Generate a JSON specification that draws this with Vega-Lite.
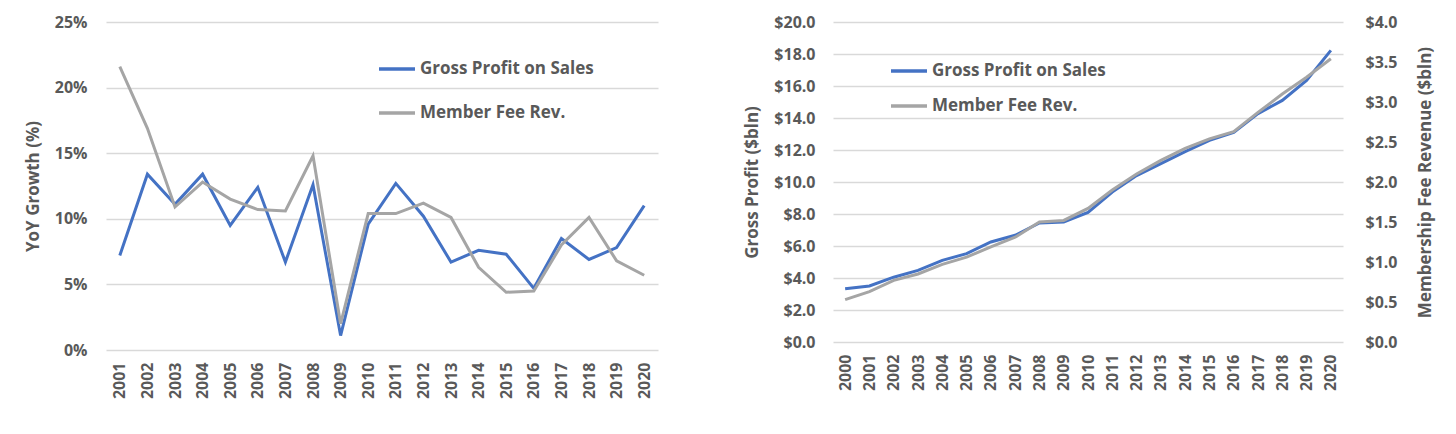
{
  "$schema": "https://vega.github.io/schema/vega-lite/v6.json",
  "background": "white",
  "padding": {"left": 24, "top": 14, "right": 5, "bottom": 5},
  "config": {
    "view": {"stroke": null},
    "font": "Open Sans",
    "axis": {
      "labelFont": "Open Sans",
      "labelFontSize": 16,
      "labelFontWeight": "bold",
      "labelColor": "#595959",
      "titleFont": "Open Sans",
      "titleFontSize": 17,
      "titleFontWeight": "bold",
      "titleColor": "#595959",
      "gridColor": "#D9D9D9",
      "gridWidth": 1.5,
      "domain": false,
      "ticks": false
    },
    "legend": {
      "labelFont": "Open Sans",
      "labelFontSize": 17,
      "labelFontWeight": "bold",
      "labelColor": "#595959",
      "labelLimit": 400,
      "symbolType": "stroke",
      "symbolSize": 1296,
      "symbolStrokeWidth": 3.5,
      "labelOffset": 3
    }
  },
  "datasets": {
    "growth": [
      {"year": "2001", "series": "Gross Profit on Sales", "value": 7.2},
      {"year": "2002", "series": "Gross Profit on Sales", "value": 13.4},
      {"year": "2003", "series": "Gross Profit on Sales", "value": 11.1},
      {"year": "2004", "series": "Gross Profit on Sales", "value": 13.4},
      {"year": "2005", "series": "Gross Profit on Sales", "value": 9.5},
      {"year": "2006", "series": "Gross Profit on Sales", "value": 12.4},
      {"year": "2007", "series": "Gross Profit on Sales", "value": 6.7},
      {"year": "2008", "series": "Gross Profit on Sales", "value": 12.6},
      {"year": "2009", "series": "Gross Profit on Sales", "value": 1.1},
      {"year": "2010", "series": "Gross Profit on Sales", "value": 9.6},
      {"year": "2011", "series": "Gross Profit on Sales", "value": 12.7},
      {"year": "2012", "series": "Gross Profit on Sales", "value": 10.2},
      {"year": "2013", "series": "Gross Profit on Sales", "value": 6.7},
      {"year": "2014", "series": "Gross Profit on Sales", "value": 7.6},
      {"year": "2015", "series": "Gross Profit on Sales", "value": 7.3},
      {"year": "2016", "series": "Gross Profit on Sales", "value": 4.7},
      {"year": "2017", "series": "Gross Profit on Sales", "value": 8.5},
      {"year": "2018", "series": "Gross Profit on Sales", "value": 6.9},
      {"year": "2019", "series": "Gross Profit on Sales", "value": 7.8},
      {"year": "2020", "series": "Gross Profit on Sales", "value": 11.0},
      {"year": "2001", "series": "Member Fee Rev.", "value": 21.6},
      {"year": "2002", "series": "Member Fee Rev.", "value": 16.9},
      {"year": "2003", "series": "Member Fee Rev.", "value": 10.9},
      {"year": "2004", "series": "Member Fee Rev.", "value": 12.8},
      {"year": "2005", "series": "Member Fee Rev.", "value": 11.5},
      {"year": "2006", "series": "Member Fee Rev.", "value": 10.7},
      {"year": "2007", "series": "Member Fee Rev.", "value": 10.6},
      {"year": "2008", "series": "Member Fee Rev.", "value": 14.8},
      {"year": "2009", "series": "Member Fee Rev.", "value": 2.0},
      {"year": "2010", "series": "Member Fee Rev.", "value": 10.4},
      {"year": "2011", "series": "Member Fee Rev.", "value": 10.4},
      {"year": "2012", "series": "Member Fee Rev.", "value": 11.2},
      {"year": "2013", "series": "Member Fee Rev.", "value": 10.1},
      {"year": "2014", "series": "Member Fee Rev.", "value": 6.3},
      {"year": "2015", "series": "Member Fee Rev.", "value": 4.4},
      {"year": "2016", "series": "Member Fee Rev.", "value": 4.5},
      {"year": "2017", "series": "Member Fee Rev.", "value": 8.0},
      {"year": "2018", "series": "Member Fee Rev.", "value": 10.1},
      {"year": "2019", "series": "Member Fee Rev.", "value": 6.8},
      {"year": "2020", "series": "Member Fee Rev.", "value": 5.7}
    ],
    "levels": [
      {"year": "2000", "series": "Gross Profit on Sales", "value": 3.33},
      {"year": "2001", "series": "Gross Profit on Sales", "value": 3.5},
      {"year": "2002", "series": "Gross Profit on Sales", "value": 4.05},
      {"year": "2003", "series": "Gross Profit on Sales", "value": 4.48},
      {"year": "2004", "series": "Gross Profit on Sales", "value": 5.1},
      {"year": "2005", "series": "Gross Profit on Sales", "value": 5.52},
      {"year": "2006", "series": "Gross Profit on Sales", "value": 6.25},
      {"year": "2007", "series": "Gross Profit on Sales", "value": 6.67},
      {"year": "2008", "series": "Gross Profit on Sales", "value": 7.44},
      {"year": "2009", "series": "Gross Profit on Sales", "value": 7.5},
      {"year": "2010", "series": "Gross Profit on Sales", "value": 8.1},
      {"year": "2011", "series": "Gross Profit on Sales", "value": 9.37},
      {"year": "2012", "series": "Gross Profit on Sales", "value": 10.4},
      {"year": "2013", "series": "Gross Profit on Sales", "value": 11.15},
      {"year": "2014", "series": "Gross Profit on Sales", "value": 11.9},
      {"year": "2015", "series": "Gross Profit on Sales", "value": 12.6},
      {"year": "2016", "series": "Gross Profit on Sales", "value": 13.1},
      {"year": "2017", "series": "Gross Profit on Sales", "value": 14.27},
      {"year": "2018", "series": "Gross Profit on Sales", "value": 15.1},
      {"year": "2019", "series": "Gross Profit on Sales", "value": 16.35},
      {"year": "2020", "series": "Gross Profit on Sales", "value": 18.23},
      {"year": "2000", "series": "Member Fee Rev.", "value": 0.53},
      {"year": "2001", "series": "Member Fee Rev.", "value": 0.63},
      {"year": "2002", "series": "Member Fee Rev.", "value": 0.77},
      {"year": "2003", "series": "Member Fee Rev.", "value": 0.85},
      {"year": "2004", "series": "Member Fee Rev.", "value": 0.97},
      {"year": "2005", "series": "Member Fee Rev.", "value": 1.06},
      {"year": "2006", "series": "Member Fee Rev.", "value": 1.19},
      {"year": "2007", "series": "Member Fee Rev.", "value": 1.31},
      {"year": "2008", "series": "Member Fee Rev.", "value": 1.5},
      {"year": "2009", "series": "Member Fee Rev.", "value": 1.52},
      {"year": "2010", "series": "Member Fee Rev.", "value": 1.67},
      {"year": "2011", "series": "Member Fee Rev.", "value": 1.9},
      {"year": "2012", "series": "Member Fee Rev.", "value": 2.1},
      {"year": "2013", "series": "Member Fee Rev.", "value": 2.27},
      {"year": "2014", "series": "Member Fee Rev.", "value": 2.42},
      {"year": "2015", "series": "Member Fee Rev.", "value": 2.54},
      {"year": "2016", "series": "Member Fee Rev.", "value": 2.63},
      {"year": "2017", "series": "Member Fee Rev.", "value": 2.87},
      {"year": "2018", "series": "Member Fee Rev.", "value": 3.1},
      {"year": "2019", "series": "Member Fee Rev.", "value": 3.31},
      {"year": "2020", "series": "Member Fee Rev.", "value": 3.54}
    ]
  },
  "spacing": 85,
  "resolve": {"scale": {"color": "independent"}, "legend": {"color": "independent"}},
  "hconcat": [
    {
      "width": 552,
      "height": 328,
      "data": {"name": "growth"},
      "mark": {"type": "line", "strokeWidth": 3},
      "encoding": {
        "x": {
          "field": "year", "type": "ordinal",
          "scale": {"type": "point", "padding": 0.5},
          "axis": {"title": null, "labelAngle": -90, "labelPadding": 12, "grid": false}
        },
        "y": {
          "field": "value", "type": "quantitative",
          "scale": {"domain": [0, 25]},
          "axis": {
            "title": "YoY Growth (%)",
            "values": [0, 5, 10, 15, 20, 25],
            "labelExpr": "datum.value + '%'",
            "labelPadding": 19,
            "titlePadding": 12
          }
        },
        "color": {
          "field": "series", "type": "nominal",
          "scale": {"domain": ["Gross Profit on Sales", "Member Fee Rev."], "range": ["#4472C4", "#A5A5A5"]},
          "legend": {"title": null, "orient": "none", "legendX": 271, "legendY": 27, "rowPadding": 16}
        }
      }
    },
    {
      "width": 510,
      "height": 320,
      "data": {"name": "levels"},
      "encoding": {
        "x": {
          "field": "year", "type": "ordinal",
          "scale": {"type": "point", "padding": 0.5},
          "axis": {"title": null, "labelAngle": -90, "labelPadding": 12, "grid": false}
        },
        "color": {
          "field": "series", "type": "nominal",
          "scale": {"domain": ["Gross Profit on Sales", "Member Fee Rev."], "range": ["#4472C4", "#A5A5A5"]},
          "legend": {"title": null, "orient": "none", "legendX": 56, "legendY": 29, "rowPadding": 7}
        }
      },
      "layer": [
        {
          "transform": [{"filter": "datum.series === 'Gross Profit on Sales'"}],
          "mark": {"type": "line", "strokeWidth": 3},
          "encoding": {
            "y": {
              "field": "value", "type": "quantitative",
              "scale": {"domain": [0, 20]},
              "axis": {
                "title": "Gross Profit ($bln)",
                "values": [0, 2, 4, 6, 8, 10, 12, 14, 16, 18, 20],
                "format": "$.1f",
                "labelPadding": 18,
                "titlePadding": 12
              }
            }
          }
        },
        {
          "transform": [{"filter": "datum.series === 'Member Fee Rev.'"}],
          "mark": {"type": "line", "strokeWidth": 3},
          "encoding": {
            "y": {
              "field": "value", "type": "quantitative",
              "scale": {"domain": [0, 4]},
              "axis": {
                "orient": "right",
                "title": "Membership Fee Revenue ($bln)",
                "titleAngle": -90,
                "titleBaseline": "top",
                "values": [0, 0.5, 1, 1.5, 2, 2.5, 3, 3.5, 4],
                "format": "$.1f",
                "grid": false,
                "labelPadding": 22,
                "titlePadding": 20
              }
            }
          }
        }
      ],
      "resolve": {"scale": {"y": "independent"}}
    }
  ]
}
